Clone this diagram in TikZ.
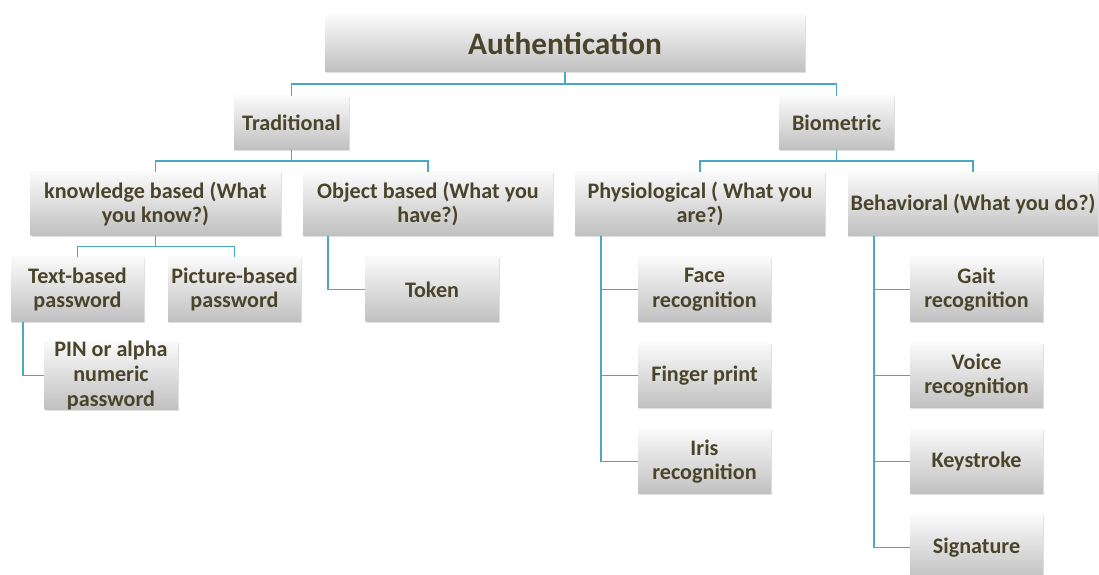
\documentclass[tikz,border=0pt]{standalone}
\usepackage{fontspec}
\setmainfont{Carlito}
\usetikzlibrary{shapes,positioning,calc,shadows}
\definecolor{boxtopcolor}{RGB}{250,250,250}
\definecolor{boxbottomcolor}{RGB}{192,192,192}
\definecolor{labelcolor}{RGB}{74,69,42}
\definecolor{linkcolor}{RGB}{75,168,196}
\tikzset{
    box/.style={
        rectangle,
        inner sep=0pt,
        align=center,
        top color=boxtopcolor,
        bottom color=boxbottomcolor,
        draw=none,
        drop shadow={shadow xshift=0.6pt, shadow yshift=-0.8pt, opacity=0.25},
        text=labelcolor,
        font=\fontsize{12.6}{14}\selectfont\bfseries
    },
    rootbox/.style={box, minimum width=9.6cm, minimum height=1.14cm,
        font=\fontsize{17.8}{20}\selectfont\bfseries},
    groupbox/.style={box, minimum width=2.3cm, minimum height=1.08cm},
    classbox/.style={box, minimum width=5cm, minimum height=1.28cm},
    leafbox/.style={box, minimum width=2.66cm, minimum height=1.3cm},
    link/.style={line width=1pt, color=linkcolor}
}

\begin{document}
\begin{tikzpicture}
    \clip (0,0) rectangle (21.98,11.5);

    % Root
    \node[rootbox] (auth) at (11.3,10.63) {Authentication};

    % Main groups
    \node[groupbox] (trad) at (5.83,9.04) {Traditional};
    \node[groupbox] (bio) at (16.73,9.04) {Biometric};

    % Classes
    \node[classbox] (know) at (3.11,7.42) {knowledge based (What\\you know?)};
    \node[classbox] (obj) at (8.56,7.42) {Object based (What you\\have?)};
    \node[classbox] (phys) at (14.0,7.42) {Physiological ( What you\\are?)};
    \node[classbox] (beh) at (19.46,7.42) {Behavioral (What you do?)};

    % Traditional leaves
    \node[leafbox] (text) at (1.55,5.71) {Text-based\\password};
    \node[leafbox] (pic) at (4.69,5.71) {Picture-based\\password};
    \node[leafbox] (token) at (8.64,5.71) {Token};
    \node[leafbox] (pin) at (2.22,3.99) {PIN or alpha\\numeric\\password};

    % Physiological leaves
    \node[leafbox] (face) at (14.09,5.71) {Face\\recognition};
    \node[leafbox] (finger) at (14.09,3.99) {Finger print};
    \node[leafbox] (iris) at (14.09,2.27) {Iris\\recognition};

    % Behavioral leaves
    \node[leafbox] (gait) at (19.53,5.71) {Gait\\recognition};
    \node[leafbox] (voice) at (19.53,3.99) {Voice\\recognition};
    \node[leafbox] (key) at (19.53,2.27) {Keystroke};
    \node[leafbox] (sig) at (19.53,0.55) {Signature};

    % Links
    \draw[link] (auth.south) |- ($(auth.south)!.5!(trad.north)$) -| (trad.north);
    \draw[link] (auth.south) |- ($(auth.south)!.5!(bio.north)$) -| (bio.north);
    \draw[link] (trad.south) |- ($(trad.south)!.5!(know.north)$) -| (know.north);
    \draw[link] (trad.south) |- ($(trad.south)!.5!(obj.north)$) -| (obj.north);
    \draw[link] (bio.south) |- ($(bio.south)!.5!(phys.north)$) -| (phys.north);
    \draw[link] (bio.south) |- ($(bio.south)!.5!(beh.north)$) -| (beh.north);
    \draw[link] (know.south) |- ($(know.south)!.5!(text.north)$) -| (text.north);
    \draw[link] (know.south) |- ($(know.south)!.5!(pic.north)$) -| (pic.north);
    \draw[link] ([xshift=0.24cm]text.south west) |- (pin.west);
    \draw[link] ([xshift=0.5cm]obj.south west) |- (token.west);
    \draw[link] ([xshift=0.52cm]phys.south west) |- (face.west);
    \draw[link] ([xshift=0.52cm]phys.south west) |- (finger.west);
    \draw[link] ([xshift=0.52cm]phys.south west) |- (iris.west);
    \draw[link] ([xshift=0.52cm]beh.south west) |- (gait.west);
    \draw[link] ([xshift=0.52cm]beh.south west) |- (voice.west);
    \draw[link] ([xshift=0.52cm]beh.south west) |- (key.west);
    \draw[link] ([xshift=0.52cm]beh.south west) |- (sig.west);
\end{tikzpicture}
\end{document}
